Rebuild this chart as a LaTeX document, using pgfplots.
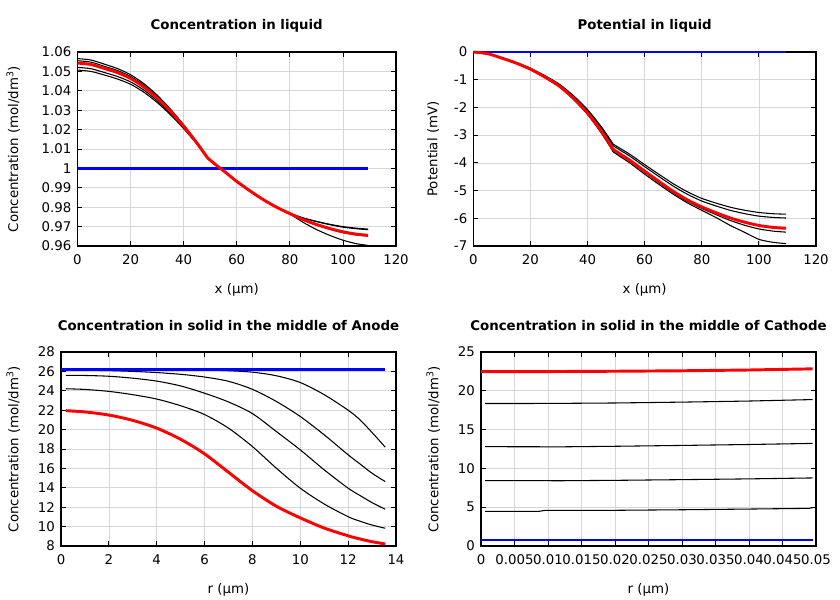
\documentclass[border=0pt]{standalone}
\usepackage{fontspec}
\setmainfont{DejaVu Sans}
\usepackage{pgfplots}
\usepackage{pgfplotstable}
\pgfplotsset{compat=1.18}
\definecolor{gridc}{rgb}{0.84,0.84,0.84}
\definecolor{myblue}{rgb}{0,0,1}
\definecolor{myred}{rgb}{1,0,0}

\pgfplotstableread{
x     b1     b2     red    b3     b4
0     1.0566 1.0555 1.0543 1.0521 1.0507
5     1.0559 1.0548 1.0536 1.0514 1.0500
10    1.0538 1.0527 1.0516 1.0495 1.0482
15    1.0515 1.0505 1.0494 1.0474 1.0461
20    1.0483 1.0474 1.0464 1.0446 1.0434
25    1.0437 1.0429 1.0420 1.0404 1.0393
30    1.0378 1.0371 1.0363 1.0349 1.0340
35    1.0306 1.0301 1.0295 1.0284 1.0277
40    1.0225 1.0221 1.0217 1.0210 1.0205
45    1.0135 1.0133 1.0131 1.0128 1.0125
49    1.0054 1.0054 1.0054 1.0054 1.0054
52    1.0021 1.0020 1.0020 1.0019 1.0019
56    0.9978 0.9977 0.9977 0.9976 0.9976
60    0.9934 0.9933 0.9933 0.9932 0.9932
65    0.9885 0.9884 0.9884 0.9884 0.9883
70    0.9839 0.9839 0.9839 0.9840 0.9840
75    0.9799 0.9800 0.9800 0.9801 0.9801
80    0.9765 0.9767 0.9767 0.9768 0.9769
85    0.9722 0.9735 0.9736 0.9744 0.9745
90    0.9685 0.9709 0.9711 0.9726 0.9727
95    0.9655 0.9687 0.9690 0.9710 0.9712
100   0.9630 0.9669 0.9673 0.9697 0.9700
105   0.9612 0.9657 0.9661 0.9689 0.9692
109.5 0.9603 0.9651 0.9655 0.9684 0.9687
}\tlData

\pgfplotstableread{
x     t1     t2     red    b1     b2
0     0      0      0      0      0
5     -0.057 -0.058 -0.06  -0.061 -0.062
10    -0.208 -0.212 -0.22  -0.222 -0.226
15    -0.378 -0.385 -0.40  -0.404 -0.410
20    -0.586 -0.596 -0.62  -0.626 -0.636
25    -0.851 -0.866 -0.90  -0.909 -0.923
30    -1.153 -1.174 -1.22  -1.232 -1.251
35    -1.569 -1.597 -1.66  -1.677 -1.702
40    -2.079 -2.116 -2.20  -2.222 -2.255
45    -2.722 -2.771 -2.88  -2.909 -2.952
49    -3.326 -3.386 -3.52  -3.555 -3.608
52    -3.515 -3.579 -3.72  -3.757 -3.813
55    -3.704 -3.771 -3.92  -3.959 -4.018
60    -4.064 -4.137 -4.30  -4.343 -4.408
65    -4.413 -4.493 -4.67  -4.717 -4.777
70    -4.753 -4.839 -5.03  -5.080 -5.131
75    -5.046 -5.137 -5.34  -5.393 -5.447
80    -5.283 -5.378 -5.59  -5.646 -5.713
85    -5.452 -5.556 -5.80  -5.870 -5.974
90    -5.601 -5.714 -5.99  -6.080 -6.260
95    -5.710 -5.833 -6.14  -6.251 -6.508
100   -5.791 -5.922 -6.26  -6.385 -6.761
105   -5.836 -5.969 -6.33  -6.463 -6.868
109.5 -5.851 -5.991 -6.36  -6.500 -6.913
}\trData

\pgfplotstableread{
x     b1     b2     b3     b4     red
0.2   26.18  26.12  25.59  24.21  21.95
1     26.18  26.11  25.58  24.14  21.82
2     26.18  26.08  25.50  23.94  21.50
3     26.18  26.00  25.30  23.60  20.95
4     26.17  25.88  25.00  23.15  20.15
5     26.16  25.70  24.50  22.46  19.00
6     26.13  25.42  23.75  21.55  17.50
7     26.07  24.98  22.85  20.15  15.60
8     25.92  24.15  21.65  18.25  13.70
9     25.55  22.90  19.80  16.02  12.10
10    24.85  21.35  17.91  13.96  10.90
11    23.60  19.46  15.85  12.33  9.85
12    22.00  17.40  13.96  11.02  9.05
12.5  21.00  16.45  13.20  10.55  8.72
13    19.70  15.50  12.47  10.16  8.44
13.55 18.19  14.64  11.79  9.83   8.21
}\blData

\pgfplotsset{
  myax/.style={
    scale only axis,
    axis line style={line width=0.8pt},
    grid=major,
    grid style={line width=0.5pt, draw=gridc},
    tick align=inside,
    major tick length=3.5pt,
    tick style={black, line width=0.6pt},
    minor tick num=0,
    /pgf/number format/assume math mode=true,
    tick label style={font=\fontsize{10}{12}\selectfont},
    xticklabel style={yshift=-3pt},
    yticklabel style={xshift=-1pt},
    label style={font=\fontsize{10}{12}\selectfont},
    title style={at={(axis description cs:0.5,1)}, anchor=center, yshift=13.5pt, font=\fontsize{10}{12}\selectfont\bfseries},
    xlabel style={at={(axis description cs:0.5,0)}, anchor=center, yshift=-32.5pt},
    blk/.style={black, line width=0.8pt},
    blu/.style={myblue, line width=1.9pt},
    rd/.style={myred, line width=2.2pt},
    lft/.style={smooth, tension=0.4, restrict x to domain=0:49},
    rgt/.style={smooth, tension=0.4, restrict x to domain=49:110},
  }
}

\begin{document}
\begin{tikzpicture}
\path[use as bounding box] (0,0) rectangle (630pt,450pt);

% Top left
\begin{axis}[myax,
  at={(58.1pt,265.5pt)}, anchor=south west,
  width=238.9pt, height=145.5pt,
  xmin=0, xmax=120, ymin=0.96, ymax=1.06,
  xtick={0,20,40,60,80,100,120},
  ytick={0.96,0.97,0.98,0.99,1,1.01,1.02,1.03,1.04,1.05,1.06},
  yticklabel style={/pgf/number format/fixed, /pgf/number format/precision=2},
  title={Concentration in liquid},
  xlabel={x (µm)},
  ylabel={Concentration (mol/dm\textsuperscript{3})},
  ylabel style={at={(axis description cs:-0.2017,0.5)}, anchor=center},
]
\addplot[blk,lft] table[x=x,y=b1] {\tlData};
\addplot[blk,rgt] table[x=x,y=b1] {\tlData};
\addplot[blk,lft] table[x=x,y=b2] {\tlData};
\addplot[blk,rgt] table[x=x,y=b2] {\tlData};
\addplot[blk,lft] table[x=x,y=b3] {\tlData};
\addplot[blk,rgt] table[x=x,y=b3] {\tlData};
\addplot[blk,lft] table[x=x,y=b4] {\tlData};
\addplot[blk,rgt] table[x=x,y=b4] {\tlData};
\addplot[blu] coordinates {(0,1) (109.5,1)};
\addplot[rd,lft] table[x=x,y=red] {\tlData};
\addplot[rd,rgt] table[x=x,y=red] {\tlData};
\end{axis}

% Top right
\begin{axis}[myax,
  at={(355pt,265.5pt)}, anchor=south west,
  width=257pt, height=145.5pt,
  xmin=0, xmax=120, ymin=-7, ymax=0,
  clip=false,
  xtick={0,20,40,60,80,100,120},
  ytick={-7,-6,-5,-4,-3,-2,-1,0},
  title={Potential in liquid},
  xlabel={x (µm)},
  ylabel={Potential (mV)},
  ylabel style={at={(axis description cs:-0.117,0.5)}, anchor=center},
]
\addplot[blk,lft] table[x=x,y=t1] {\trData};
\addplot[blk,rgt] table[x=x,y=t1] {\trData};
\addplot[blk,lft] table[x=x,y=t2] {\trData};
\addplot[blk,rgt] table[x=x,y=t2] {\trData};
\addplot[blk,lft] table[x=x,y=b1] {\trData};
\addplot[blk,rgt] table[x=x,y=b1] {\trData};
\addplot[blk,lft] table[x=x,y=b2] {\trData};
\addplot[blk,rgt] table[x=x,y=b2] {\trData};
\addplot[blu] coordinates {(0,0) (109.5,0)};
\addplot[rd,lft] table[x=x,y=red] {\trData};
\addplot[rd,rgt] table[x=x,y=red] {\trData};
\end{axis}

% Bottom left
\begin{axis}[myax,
  at={(45.75pt,40.5pt)}, anchor=south west,
  width=251.25pt, height=145.5pt,
  xmin=0, xmax=14, ymin=8, ymax=28,
  xtick={0,2,4,6,8,10,12,14},
  ytick={8,10,12,14,16,18,20,22,24,26,28},
  title={Concentration in solid in the middle of Anode},
  xlabel={r (µm)},
  ylabel={Concentration (mol/dm\textsuperscript{3})},
  ylabel style={at={(axis description cs:-0.1425,0.5)}, anchor=center},
]
\addplot[blk,smooth] table[x=x,y=b1] {\blData};
\addplot[blk,smooth] table[x=x,y=b2] {\blData};
\addplot[blk,smooth] table[x=x,y=b3] {\blData};
\addplot[blk,smooth] table[x=x,y=b4] {\blData};
\addplot[blu] coordinates {(0,26.2) (13.55,26.2)};
\addplot[rd,smooth] table[x=x,y=red] {\blData};
\end{axis}

% Bottom right
\begin{axis}[myax,
  at={(360.75pt,40.5pt)}, anchor=south west,
  width=251.25pt, height=145.5pt,
  xmin=0, xmax=0.05, ymin=0, ymax=25,
  scaled x ticks=false,
  xtick={0,0.005,0.01,0.015,0.02,0.025,0.03,0.035,0.04,0.045,0.05},
  xticklabel style={/pgf/number format/fixed, /pgf/number format/precision=3},
  ytick={0,5,10,15,20,25},
  title={Concentration in solid in the middle of Cathode},
  xlabel={r (µm)},
  ylabel={Concentration (mol/dm\textsuperscript{3})},
  ylabel style={at={(axis description cs:-0.1425,0.5)}, anchor=center},
]
\addplot[blk] coordinates {(0.0006,18.36) (0.01,18.37) (0.02,18.43) (0.03,18.54) (0.04,18.68) (0.0495,18.87)};
\addplot[blk] coordinates {(0.0006,12.80) (0.012,12.78) (0.02,12.85) (0.03,12.96) (0.04,13.08) (0.0495,13.22)};
\addplot[blk] coordinates {(0.0006,8.43) (0.012,8.41) (0.02,8.46) (0.03,8.55) (0.04,8.65) (0.0495,8.77)};
\addplot[blk] coordinates {(0.0006,4.45) (0.0085,4.45) (0.0095,4.58) (0.015,4.58) (0.02,4.60) (0.03,4.67) (0.04,4.76) (0.049,4.85) (0.0495,4.95)};
\addplot[blu] coordinates {(0,0.77) (0.0496,0.77)};
\addplot[rd] coordinates {(0,22.48) (0.01,22.48) (0.02,22.52) (0.03,22.58) (0.04,22.68) (0.0495,22.83)};
\end{axis}
\end{tikzpicture}
\end{document}
